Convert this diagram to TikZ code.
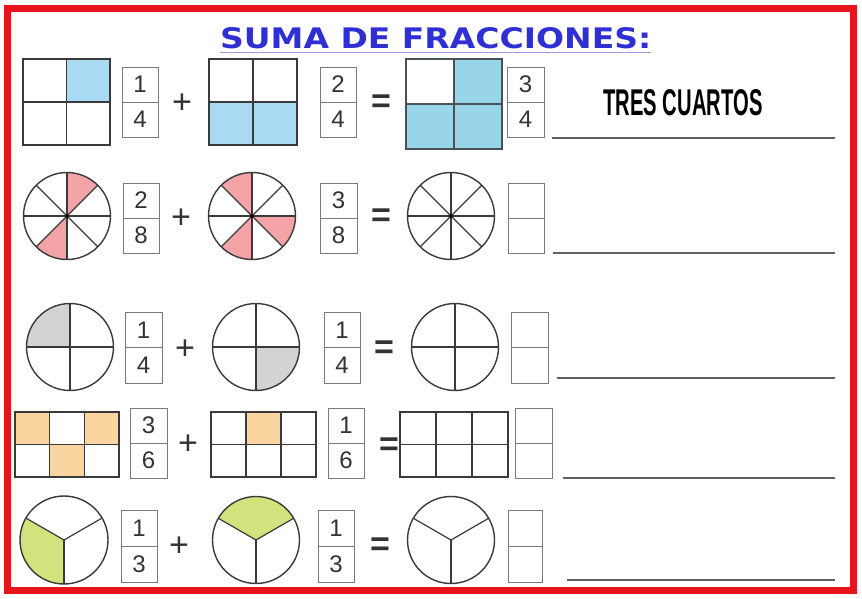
\documentclass[tikz,border=0pt]{standalone}
\usepackage{fontspec}
\setmainfont{Liberation Sans}
\newfontfamily\titlefont{DejaVu Sans}
\usepackage{graphicx}
\definecolor{redb}{HTML}{E8141C}
\definecolor{titleblue}{HTML}{2F2FD6}
\definecolor{ulblue}{HTML}{9A9AE8}
\definecolor{lineg}{HTML}{3A3A3A}
\definecolor{boxg}{HTML}{7A7A7A}
\definecolor{digitc}{HTML}{333333}
\definecolor{blueA}{HTML}{A9DAF2}
\definecolor{blueB}{HTML}{98D5E8}
\definecolor{pinkc}{HTML}{F4A3A6}
\definecolor{grayc}{HTML}{D3D3D3}
\definecolor{orangec}{HTML}{FBD5A0}
\definecolor{greenc}{HTML}{D3E27C}
\tikzset{
  gridline/.style={draw=lineg, line width=1.4pt},
  fracframe/.style={draw=boxg, line width=1pt},
  digit/.style={font=\fontsize{24}{24}\selectfont, text=digitc, inner sep=0pt},
  opsign/.style={font=\fontsize{34}{34}\selectfont, text=digitc, inner sep=0pt},
  eqsign/.style={font=\fontsize{34}{34}\selectfont\bfseries, text=digitc, inner sep=0pt},
  answerline/.style={draw=lineg!80, line width=1.5pt},
}
% fraction box: name, x1, y1, x2, y2, numerator, denominator
\newcommand\fracbox[7]{%
  \draw[fracframe] (#2,#3) rectangle (#4,#5);
  \draw[fracframe] (#2,{(#3+#5)/2}) -- (#4,{(#3+#5)/2});
  \node[digit] (#1n) at ({(#2+#4)/2},{(3*#3+#5)/4}) {#6};
  \node[digit] (#1d) at ({(#2+#4)/2},{(#3+3*#5)/4}) {#7};
}
% sector: cx, cy, r, a1, a2, colour
\newcommand\sectorfill[6]{%
  \fill[#6] (#1,#2) -- ++(#4:#3) arc[start angle=#4, end angle=#5, radius=#3] -- cycle;
}
\begin{document}
\begin{tikzpicture}[x=1pt,y=1pt]
\useasboundingbox (0,0) rectangle (862,-598);
\fill[white] (0,0) rectangle (862,-598);
\draw[redb, line width=7pt] (7.5,-8.5) rectangle (853,-590);

% title
\node[inner sep=0pt, anchor=south west, text=titleblue] (title) at (220,-49)
  {\resizebox{431pt}{21pt}{\titlefont\bfseries SUMA DE FRACCIONES:}};
\draw[ulblue, line width=1.8pt] (220,-52.5) -- (651,-52.5);

% ---------- row 1 ----------
\fill[blueA] (66.5,-59) rectangle (110,-102);
\draw[gridline] (23,-59) rectangle (110,-145);
\draw[gridline] (66.5,-59) -- (66.5,-145);
\draw[gridline] (23,-102) -- (110,-102);
\fracbox{fa}{122}{-67}{158}{-137}{1}{4}
\node[opsign] (p1) at (182,-104) {+};
\fill[blueA] (209,-102) rectangle (297,-145);
\draw[gridline] (209,-59) rectangle (297,-145);
\draw[gridline] (253,-59) -- (253,-145);
\draw[gridline] (209,-102) -- (297,-102);
\fracbox{fb}{320}{-67}{356}{-137}{2}{4}
\node[eqsign] (e1) at (381,-104) {=};
\fill[blueB] (454,-59) rectangle (502,-104);
\fill[blueB] (406,-104) rectangle (502,-149);
\draw[gridline, draw=lineg!85!blueB] (406,-59) rectangle (502,-149);
\draw[gridline, draw=lineg!85!blueB] (454,-59) -- (454,-149);
\draw[gridline, draw=lineg!85!blueB] (406,-104) -- (502,-104);
\fracbox{fc}{507}{-67}{544}{-137}{3}{4}
\node[inner sep=0pt, text=black] (ans) at (683,-103)
  {\resizebox{159pt}{26pt}{\bfseries TRES CUARTOS}};
\coordinate (l1a) at (552,-138); \coordinate (l1b) at (835,-138);
\draw[answerline] (l1a) -- (l1b);

% ---------- row 2 ----------
\foreach \cx/\sh in {67/{45/90,225/270}, 252/{90/135,315/360,225/270}, 451/{}} {
  \foreach \aa/\ab in \sh { \sectorfill{\cx}{-216}{43.5}{\aa}{\ab}{pinkc} }
  \draw[gridline] (\cx,-216) circle (43.5);
  \foreach \ang in {0,45,90,135} {
    \draw[gridline, line width=1.2pt] (\cx,-216) ++(\ang:43.5) -- ++(\ang+180:87);
  }
  \fill[black] (\cx,-216) circle (1.8);
}
\fracbox{fd}{123}{-183}{159}{-253}{2}{8}
\node[opsign] (p2) at (181,-219) {+};
\fracbox{fe}{320}{-183}{357}{-253}{3}{8}
\node[eqsign] (e2) at (381,-218) {=};
\fracbox{ff}{508}{-183}{544}{-253}{}{}
\coordinate (l2a) at (553,-253); \coordinate (l2b) at (835,-253);
\draw[answerline] (l2a) -- (l2b);

% ---------- row 3 ----------
\sectorfill{70}{-347}{43.5}{90}{180}{grayc}
\sectorfill{256}{-347}{43.5}{270}{360}{grayc}
\foreach \cx in {70,256,455} {
  \draw[gridline] (\cx,-347) circle (43.5);
  \draw[gridline, line width=1.2pt] (\cx-43.5,-347) -- (\cx+43.5,-347);
  \draw[gridline, line width=1.2pt] (\cx,-303.5) -- (\cx,-390.5);
}
\fracbox{fg}{125}{-312}{162}{-383}{1}{4}
\node[opsign] (p3) at (185,-350) {+};
\fracbox{fh}{324}{-312}{360}{-383}{1}{4}
\node[eqsign] (e3) at (384,-350) {=};
\fracbox{fi}{511}{-312}{548}{-383}{}{}
\coordinate (l3a) at (557,-378); \coordinate (l3b) at (835,-378);
\draw[answerline] (l3a) -- (l3b);

% ---------- row 4 ----------
\fill[orangec] (15,-412) rectangle (49.7,-444.5);
\fill[orangec] (84.3,-412) rectangle (119,-444.5);
\fill[orangec] (49.7,-444.5) rectangle (84.3,-477);
\fill[orangec] (246,-412) rectangle (281,-444.5);
\foreach \xa/\xb in {15/119, 211/316, 400/508} {
  \draw[gridline] (\xa,-412) rectangle (\xb,-477);
  \draw[gridline] (\xa,-444.5) -- (\xb,-444.5);
  \draw[gridline] ({\xa+(\xb-\xa)/3},-412) -- ({\xa+(\xb-\xa)/3},-477);
  \draw[gridline] ({\xa+2*(\xb-\xa)/3},-412) -- ({\xa+2*(\xb-\xa)/3},-477);
}
\fracbox{fj}{130}{-408}{167}{-478}{3}{6}
\node[opsign] (p4) at (188,-445) {+};
\fracbox{fk}{328}{-408}{364}{-478}{1}{6}
\node[eqsign] (e4) at (389,-447) {=};
\fracbox{fl}{515}{-408}{552}{-478}{}{}
\coordinate (l4a) at (563,-478); \coordinate (l4b) at (835,-478);
\draw[answerline] (l4a) -- (l4b);

% ---------- row 5 ----------
\sectorfill{64}{-540}{44}{150}{270}{greenc}
\sectorfill{256}{-540}{43.5}{30}{150}{greenc}
\foreach \cx/\r in {64/44, 256/43.5, 451/43.5} {
  \draw[gridline] (\cx,-540) circle (\r);
  \foreach \ang in {30,150,270} {
    \draw[gridline, line width=1.2pt] (\cx,-540) -- ++(\ang:\r);
  }
}
\fracbox{fm}{121}{-510}{157}{-582}{1}{3}
\node[opsign] (p5) at (179,-547) {+};
\fracbox{fn}{318}{-510}{354}{-582}{1}{3}
\node[eqsign] (e5) at (380,-547) {=};
\fracbox{fo}{508}{-510}{542}{-582}{}{}
\coordinate (l5a) at (567,-580); \coordinate (l5b) at (835,-580);
\draw[answerline] (l5a) -- (l5b);
\end{tikzpicture}
\end{document}
